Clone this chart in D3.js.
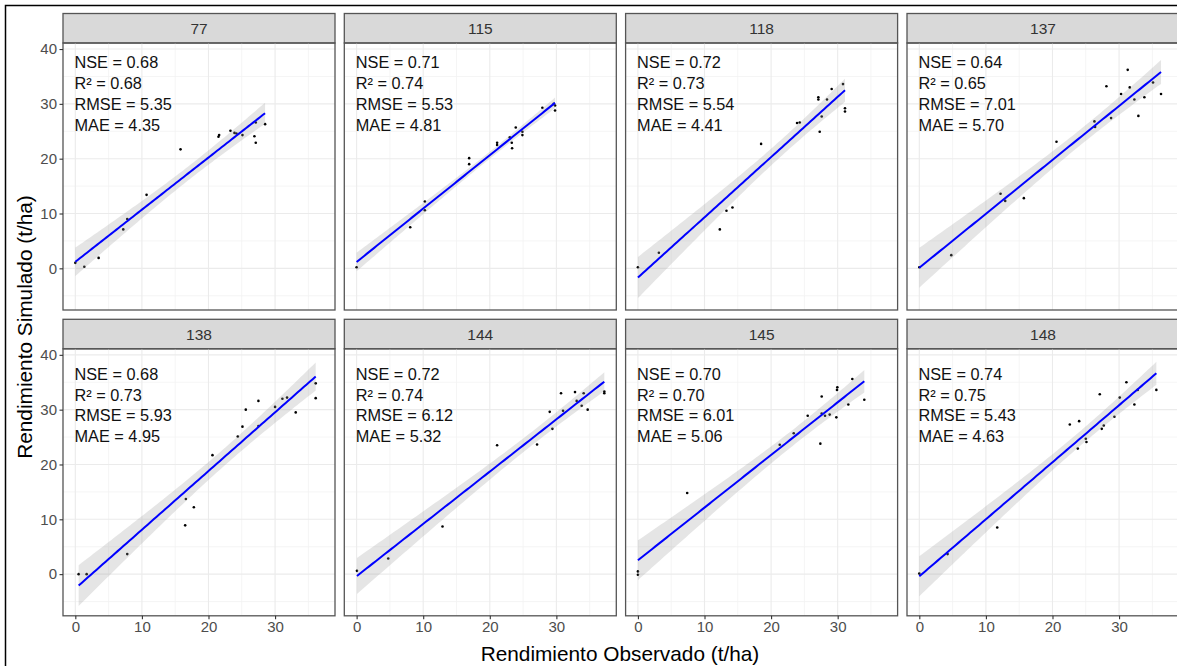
<!DOCTYPE html>
<html>
<head>
<meta charset="utf-8">
<script src="https://cdn.jsdelivr.net/npm/d3@7"></script>
<style>
	body { margin: 0; background: #fff; }
	svg { display: block; font-family: "Liberation Sans", Arial, sans-serif; }
</style>
</head>
<body>
<div id="g-container"></div>
<script>
	// one entry per facet, same order as the picture (left to right, top to bottom)
	var panels = ["77", "115", "118", "137", "138", "144", "145", "148"]

	var obs = [
		[0, 1.35, 3.5, 7.2, 7.8, 10.7, 15.8, 21.5, 21.6, 23.3, 23.9, 24.2, 25.1, 26.9, 27.1, 27.1, 28.5],
		[0, 8.05, 10.25, 10.25, 16.9, 16.9, 21.1, 21.1, 23.0, 23.3, 23.35, 23.9, 24.9, 24.9, 27.9, 29.8, 29.8, 29.6],
		[0, 3.15, 12.3, 13.3, 14.2, 18.5, 23.9, 24.3, 27.1, 27.1, 27.3, 27.6, 28.4, 29.1, 30.8, 31.1, 31.1],
		[0, 4.8, 12.2, 12.9, 15.7, 20.6, 26.3, 26.4, 28.1, 28.8, 30.3, 31.3, 31.6, 32.3, 32.9, 33.8, 35.1, 36.3],
		[0.5, 1.7, 7.8, 16.5, 16.6, 17.8, 20.6, 24.4, 25.1, 25.6, 27.5, 27.5, 30.0, 31.1, 31.8, 33.1, 36.1, 36.1],
		[0.05, 4.75, 12.9, 21.1, 27.1, 29.0, 29.4, 30.7, 31.0, 32.8, 33.05, 33.8, 34.1, 34.7, 37.2, 37.2],
		[0, 0, 7.4, 21.3, 23.4, 25.5, 27.4, 27.6, 27.6, 28.1, 28.8, 29.8, 29.9, 29.95, 31.6, 32.2, 34.0],
		[0, 4.25, 11.7, 22.6, 23.8, 24.0, 25.0, 25.1, 27.1, 27.4, 27.7, 29.3, 30.1, 31.1, 32.3, 32.8, 35.6]
	]
	var sim = [
		[1.0, 0.3, 1.9, 7.1, 9.0, 13.4, 21.7, 24.0, 24.3, 25.1, 24.7, 24.6, 24.3, 24.1, 22.9, 26.6, 26.3],
		[0.2, 7.5, 12.2, 10.6, 20.1, 19.0, 22.9, 22.5, 23.9, 22.9, 21.9, 25.7, 24.9, 24.3, 29.3, 29.7, 28.8, 30.0],
		[0.2, 2.85, 7.1, 10.5, 11.1, 22.7, 26.5, 26.6, 31.2, 30.8, 24.9, 27.7, 30.8, 32.7, 33.6, 29.2, 28.6],
		[0.2, 2.4, 13.6, 12.3, 12.8, 23.1, 26.8, 25.8, 33.2, 27.4, 31.8, 36.2, 33.0, 30.8, 27.8, 31.2, 33.9, 31.8],
		[0, 0, 3.65, 8.9, 13.7, 12.2, 21.7, 25.1, 26.9, 30.0, 31.6, 27.0, 30.5, 32.0, 32.2, 29.5, 34.8, 32.1],
		[0.6, 2.85, 8.7, 23.5, 23.65, 29.6, 26.5, 33.0, 29.8, 33.2, 31.6, 30.7, 33.0, 30.0, 33.3, 33.0],
		[0.5, -0.1, 14.8, 23.6, 25.7, 28.9, 23.8, 32.4, 29.3, 28.9, 29.1, 28.6, 33.6, 34.1, 30.95, 35.6, 31.8],
		[0.1, 3.65, 8.5, 27.3, 22.9, 27.9, 24.7, 24.1, 32.8, 26.5, 27.1, 28.7, 32.2, 35.0, 30.95, 33.6, 33.6]
	]

	var nse = [0.68, 0.71, 0.72, 0.64, 0.68, 0.72, 0.70, 0.74]
	var r2 = [0.68, 0.74, 0.73, 0.65, 0.73, 0.74, 0.70, 0.75]
	var rmse = [5.35, 5.53, 5.54, 7.01, 5.93, 6.12, 6.01, 5.43]
	var mae = [4.35, 4.81, 4.41, 5.70, 4.95, 5.32, 5.06, 4.63]

	var xTicks = [0, 10, 20, 30]
	var xMinor = [5, 15, 25, 35]
	var yTicks = [0, 10, 20, 30, 40]
	var yMinor = [-5, 5, 15, 25, 35]

	var width = 1177
	var height = 666
	var panel_w = 272
	var panel_h = 267
	var strip_h = 29.5
	var col_left = [63, 344.3, 625.6, 907]
	var row_top = [13.5, 319.3]
	var label_dy = [19.3, 25]   // stats block sits a bit lower in the second row

	var f2 = d3.format(".2f")

	var svg = d3.select("#g-container").append("svg")
		.attr("width", width)
		.attr("height", height)

	svg.append("rect").attr("width", width).attr("height", height).attr("fill", "#fff")

	// outer frame of the exported picture (right and bottom edges are cut off)
	svg.append("path")
		.attr("d", "M5.5," + height + "V5.5H" + width)
		.attr("fill", "none")
		.attr("stroke", "#000")
		.attr("stroke-width", 1.5)

	var x = d3.scaleLinear().domain([-1.85, 39.0]).range([0, panel_w])
	var y = d3.scaleLinear().domain([-7.6, 41.1]).range([panel_h, 0])

	// linear fit with 95% band, like geom_smooth(method = "lm")
	function fit(xs, ys){
		var n = xs.length
		var mx = d3.mean(xs), my = d3.mean(ys)
		var sxx = 0, sxy = 0
		for(var i = 0; i < n; i++){
			sxx += (xs[i] - mx) * (xs[i] - mx)
			sxy += (xs[i] - mx) * (ys[i] - my)
		}
		var b = sxy / sxx
		var a = my - b * mx
		var sse = 0
		for(var i = 0; i < n; i++){
			var e = ys[i] - (a + b * xs[i])
			sse += e * e
		}
		var s = Math.sqrt(sse / (n - 2))
		var t = 1.96 + 2.4 / (n - 2)
		var lo = d3.min(xs), hi = d3.max(xs)
		var out = []
		for(var k = 0; k < 80; k++){
			var xv = lo + (hi - lo) * k / 79
			var yv = a + b * xv
			var se = s * Math.sqrt(1 / n + (xv - mx) * (xv - mx) / sxx)
			out.push({x: xv, y: yv, lo: yv - t * se, hi: yv + t * se})
		}
		return out
	}

	var defs = svg.append("defs")
	defs.append("clipPath").attr("id", "panel-clip")
		.append("rect").attr("width", panel_w).attr("height", panel_h)

	panels.forEach(function(id, i){
		var col = i % 4
		var row = Math.floor(i / 4)
		var g = svg.append("g")
			.attr("transform", "translate(" + col_left[col] + "," + row_top[row] + ")")

		// strip
		g.append("rect")
			.attr("width", panel_w)
			.attr("height", strip_h)
			.attr("fill", "#d9d9d9")
			.attr("stroke", "#555")
			.attr("stroke-width", 1.3)
		g.append("text")
			.attr("x", panel_w / 2)
			.attr("y", strip_h / 2 + 5.5)
			.attr("text-anchor", "middle")
			.style("font-size", "15.5px")
			.style("fill", "#333")
			.text(id)

		var p = g.append("g").attr("transform", "translate(0," + strip_h + ")")

		// grid
		p.selectAll(".gx-minor").data(xMinor).enter().append("line")
			.attr("x1", function(d){ return x(d) }).attr("x2", function(d){ return x(d) })
			.attr("y1", 0).attr("y2", panel_h)
			.attr("stroke", "#f2f2f2").attr("stroke-width", 0.8)
		p.selectAll(".gy-minor").data(yMinor).enter().append("line")
			.attr("y1", function(d){ return y(d) }).attr("y2", function(d){ return y(d) })
			.attr("x1", 0).attr("x2", panel_w)
			.attr("stroke", "#f2f2f2").attr("stroke-width", 0.8)
		p.selectAll(".gx").data(xTicks).enter().append("line")
			.attr("x1", function(d){ return x(d) }).attr("x2", function(d){ return x(d) })
			.attr("y1", 0).attr("y2", panel_h)
			.attr("stroke", "#ebebeb").attr("stroke-width", 1.1)
		p.selectAll(".gy").data(yTicks).enter().append("line")
			.attr("y1", function(d){ return y(d) }).attr("y2", function(d){ return y(d) })
			.attr("x1", 0).attr("x2", panel_w)
			.attr("stroke", "#ebebeb").attr("stroke-width", 1.1)

		var plot = p.append("g").attr("clip-path", "url(#panel-clip)")

		// points go under the band, so the ones inside it look grey
		var pts = obs[i].map(function(v, j){ return [v, sim[i][j]] })
		plot.selectAll("circle").data(pts).enter().append("circle")
			.attr("cx", function(d){ return x(d[0]) })
			.attr("cy", function(d){ return y(d[1]) })
			.attr("r", 1.3)
			.attr("fill", "#000")

		var line_data = fit(obs[i], sim[i])
		plot.append("path")
			.datum(line_data)
			.attr("d", d3.area()
				.x(function(d){ return x(d.x) })
				.y0(function(d){ return y(d.lo) })
				.y1(function(d){ return y(d.hi) }))
			.attr("fill", "#999")
			.attr("fill-opacity", 0.26)
		plot.append("path")
			.datum(line_data)
			.attr("d", d3.line()
				.x(function(d){ return x(d.x) })
				.y(function(d){ return y(d.y) }))
			.attr("fill", "none")
			.attr("stroke", "#0000ff")
			.attr("stroke-width", 2)

		// stats
		var lines = ["NSE = " + f2(nse[i]), "R\u00b2 = " + f2(r2[i]), "RMSE = " + f2(rmse[i]), "MAE = " + f2(mae[i])]
		p.append("g").selectAll("text").data(lines).enter().append("text")
			.attr("x", 11.5)
			.attr("y", function(d, k){ return label_dy[row] + 6 + k * 20.8 })
			.style("font-size", "16.3px")
			.style("fill", "#111")
			.text(function(d){ return d })

		// panel border
		p.append("rect")
			.attr("width", panel_w)
			.attr("height", panel_h)
			.attr("fill", "none")
			.attr("stroke", "#555")
			.attr("stroke-width", 1.3)

		// axes only on the outer panels
		if(col == 0){
			var ya = p.append("g").call(d3.axisLeft(y).tickValues(yTicks).tickSize(3.5).tickPadding(2.5))
			ya.select(".domain").remove()
			ya.selectAll("line").attr("stroke", "#333").attr("stroke-width", 1.1)
			ya.selectAll("text").style("font-size", "15px").style("fill", "#4d4d4d").style("font-family", "Liberation Sans, Arial, sans-serif")
		}
		if(row == 1){
			var xa = p.append("g").attr("transform", "translate(0," + panel_h + ")")
				.call(d3.axisBottom(x).tickValues(xTicks).tickSize(3.5).tickPadding(2.5))
			xa.select(".domain").remove()
			xa.selectAll("line").attr("stroke", "#333").attr("stroke-width", 1.1)
			xa.selectAll("text").style("font-size", "15px").style("fill", "#4d4d4d").style("font-family", "Liberation Sans, Arial, sans-serif")
		}
	})

	svg.append("text")
		.attr("x", 620)
		.attr("y", 661)
		.attr("text-anchor", "middle")
		.style("font-size", "20.8px")
		.style("fill", "#000")
		.text("Rendimiento Observado (t/ha)")

	svg.append("text")
		.attr("transform", "translate(31.5,327) rotate(-90)")
		.attr("text-anchor", "middle")
		.style("font-size", "20.8px")
		.style("fill", "#000")
		.text("Rendimiento Simulado (t/ha)")
</script>
</body>
</html>
